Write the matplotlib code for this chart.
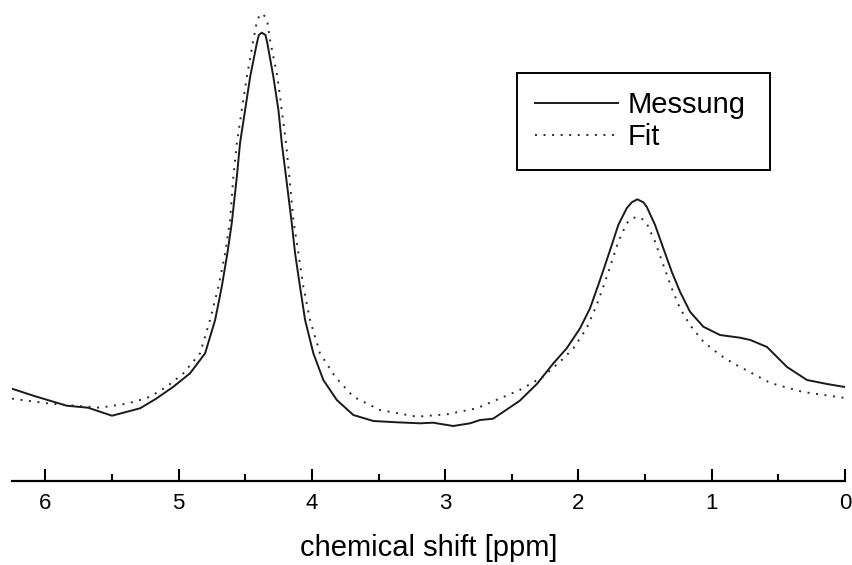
import matplotlib
matplotlib.use("Agg")
import matplotlib.pyplot as plt
from matplotlib.ticker import MultipleLocator

plt.rcParams['font.family'] = ['Liberation Sans', 'DejaVu Sans']

# chemical shift (ppm) and intensity (arb. units)
messung_ppm = [6.25, 6.09, 5.84, 5.68, 5.50, 5.289, 5.164, 5.039, 4.914, 4.801, 4.726,
               4.676, 4.634, 4.601, 4.563, 4.539, 4.501, 4.463, 4.413, 4.398, 4.376,
               4.348, 4.334, 4.289, 4.251, 4.226, 4.194, 4.151, 4.126, 4.089, 4.051,
               3.989, 3.914, 3.813, 3.689, 3.539, 3.363, 3.188, 3.091, 2.939, 2.813,
               2.738, 2.64, 2.44, 2.31, 2.188, 2.088, 1.988, 1.913, 1.851, 1.800,
               1.750, 1.701, 1.638, 1.600, 1.558, 1.513, 1.488, 1.425, 1.363, 1.300,
               1.238, 1.163, 1.063, 0.938, 0.788, 0.71, 0.585, 0.435, 0.285, 0.135, 0.0]
messung_val = [92, 85, 75, 73, 65, 72.4, 82.4, 94, 107.4, 127.4, 160.7,
               194, 227.4, 257.7, 304, 337.7, 370.7, 404, 437.4, 445.7, 448,
               445.7, 437.4, 404, 370.7, 337.7, 304, 257.7, 227.4, 194, 160.7,
               127.4, 100.7, 80.7, 65.7, 59.7, 58.4, 57.4, 58, 54.7, 57.4,
               60.7, 62, 80, 97, 117.4, 132.4, 152.4, 172.4, 195.7, 215.7,
               235.7, 255.7, 272.4, 278.4, 281.4, 278.4, 274, 255.7, 232.4, 209,
               189, 169, 154, 145.7, 143, 140.7, 133.7, 113.7, 100.7, 96.7, 93.7]

fit_ppm = [6.25, 5.96, 5.59, 5.39, 5.289, 5.214, 5.089, 4.964, 4.839, 4.764, 4.701,
           4.651, 4.614, 4.589, 4.563, 4.526, 4.488, 4.439, 4.413, 4.391, 4.376,
           4.361, 4.334, 4.314, 4.259, 4.226, 4.194, 4.169, 4.139, 4.101, 4.064,
           4.014, 3.939, 3.826, 3.689, 3.489, 3.213, 2.988, 2.763, 2.44, 2.27,
           2.138, 2.038, 1.938, 1.863, 1.800, 1.750, 1.701, 1.638, 1.608, 1.563,
           1.518, 1.488, 1.425, 1.363, 1.300, 1.238, 1.163, 1.063, 0.938, 0.838,
           0.56, 0.315, 0.0]
fit_val = [82, 77, 73, 77, 80.7, 84, 94, 107.4, 127.4, 160.7, 194,
           227.4, 260.7, 304, 337.7, 370.7, 404, 440.7, 459, 466, 467,
           466, 459, 440.7, 404, 370.7, 337.7, 304, 260.7, 227.4, 194,
           160.7, 127.4, 104, 84, 70.7, 64, 66.4, 72.4, 90.7, 103.7,
           119, 132.4, 152.4, 175.7, 199, 219, 239, 257.4, 261.4, 264,
           261.4, 257.4, 239, 215.7, 192.4, 172.4, 155.7, 139, 125.7, 117.4,
           97.7, 88.7, 82.7]

labels = ["Messung", "Fit"]
xlabel = "chemical shift [ppm]"

fig = plt.figure(figsize=(8.53, 5.65), dpi=100)
ax = fig.add_axes([12/853, 1 - 480.7/565, (845 - 12)/853, 480.7/565])

ax.plot(messung_ppm, messung_val, color='#1a1a1a', lw=1.4, label=labels[0],
        solid_joinstyle='round')
ax.plot(fit_ppm, fit_val, color='#2a2a2a', lw=1.4, ls=(0, (1, 3.4)), label=labels[1])

ax.set_xlim(6.25, 0)
ax.set_ylim(0, 480.7)

for s in ['left', 'right', 'top']:
    ax.spines[s].set_visible(False)
ax.spines['bottom'].set_linewidth(1.6)
ax.set_yticks([])
ax.xaxis.set_major_locator(MultipleLocator(1))
ax.xaxis.set_minor_locator(MultipleLocator(0.5))
ax.tick_params(axis='x', which='major', direction='in', length=9, width=1.5,
               labelsize=16, pad=9)
ax.tick_params(axis='x', which='minor', direction='in', length=5, width=1.5)
ax.set_xlabel(xlabel, fontsize=21, labelpad=14)

leg = ax.legend(loc='upper left',
                bbox_to_anchor=(517/853, (565 - 168)/565, 253/853, 95/565),
                bbox_transform=fig.transFigure, mode='expand', fontsize=21,
                frameon=True, fancybox=False, edgecolor='black', framealpha=1,
                handlelength=2.85, handletextpad=0.31, borderpad=0.62,
                labelspacing=0.15, borderaxespad=0)
leg.get_frame().set_linewidth(1.4)

fig.savefig("out.png", dpi=100)
